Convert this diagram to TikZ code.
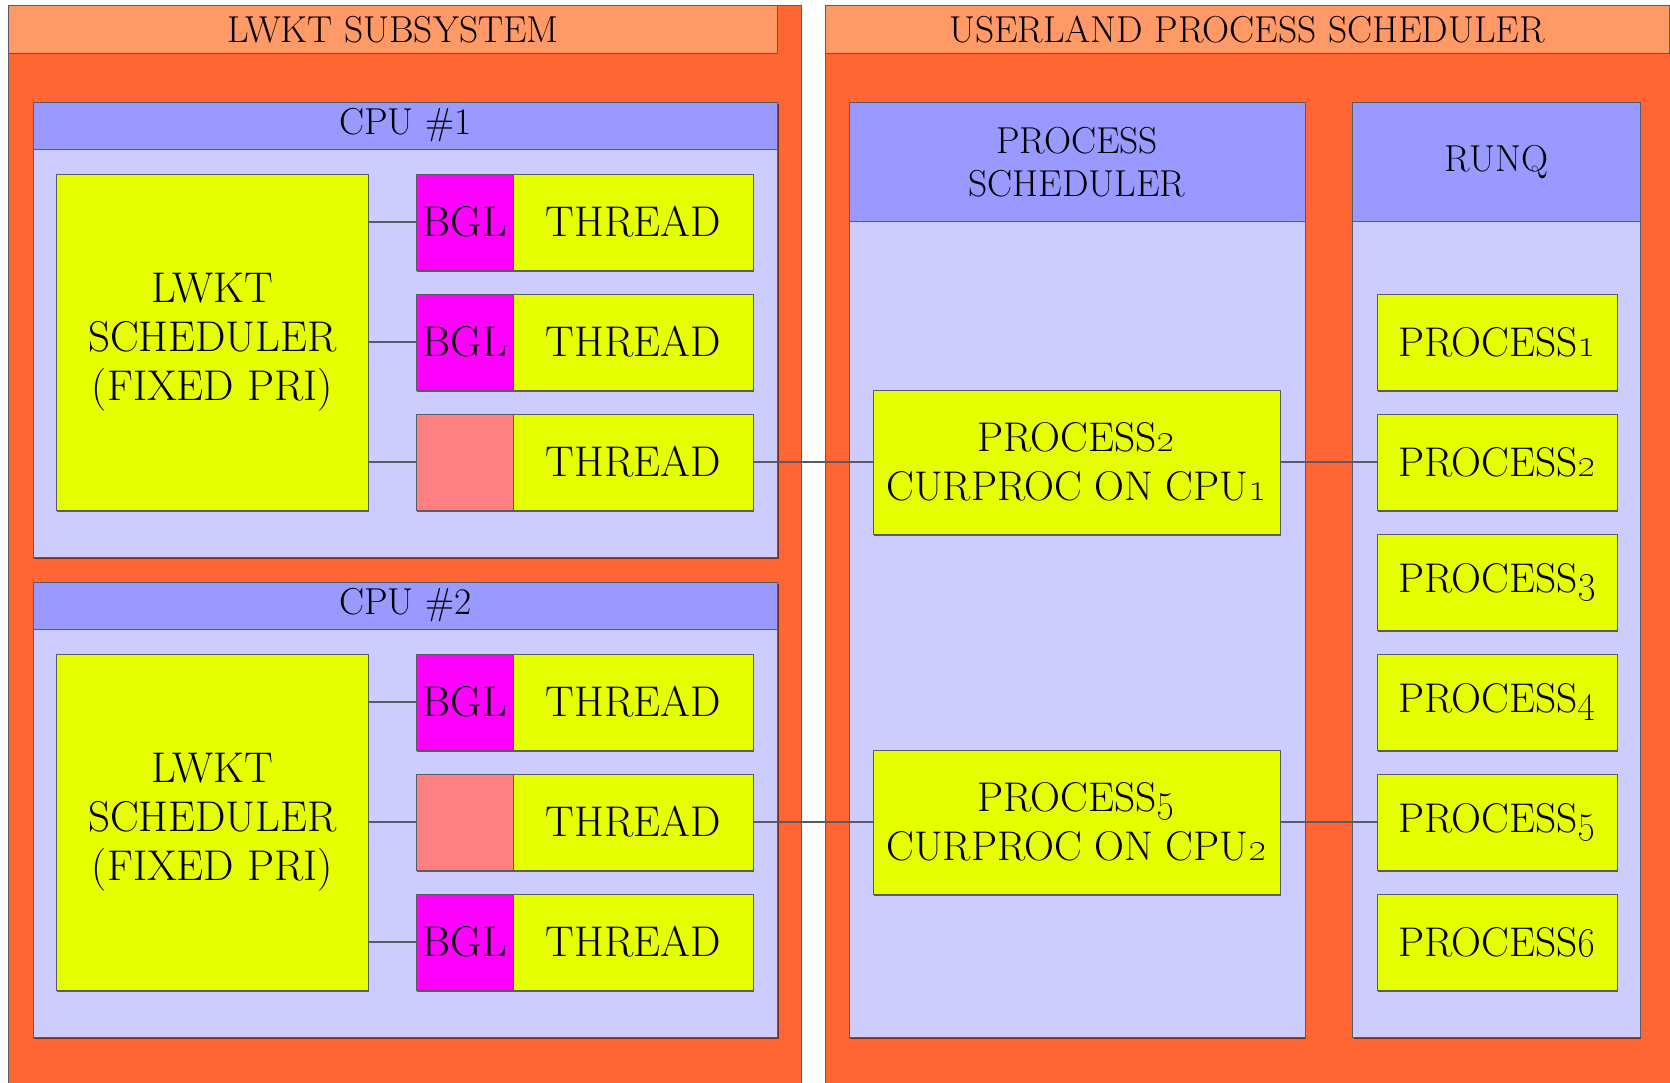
\documentclass[tikz,border=0pt]{standalone}
\usetikzlibrary{shadows}
\definecolor{panelorange}{HTML}{FF6633}
\definecolor{headorange}{HTML}{FF9966}
\definecolor{headblue}{HTML}{9999FF}
\definecolor{lavender}{HTML}{CCCCFF}
\definecolor{lime}{HTML}{E6FF00}
\definecolor{bglmag}{HTML}{FF00FF}
\definecolor{salmon}{HTML}{FF8080}
\definecolor{edge}{HTML}{5A5A66}
\newcommand{\bigtxt}{\fontsize{43}{49}\selectfont}
\newcommand{\midtxt}{\fontsize{41.5}{49}\selectfont}
\newcommand{\hdtxt}{\fontsize{37.5}{43}\selectfont}
\newcommand{\osn}[1]{\scalebox{1.15}{\oldstylenums{#1}}}
\tikzset{
  box/.style={draw=edge, line width=1pt, rectangle, anchor=north west, inner sep=0pt, outer sep=0pt, align=center,
    drop shadow={shadow xshift=1pt, shadow yshift=-2pt, fill=black, opacity=0.55}},
  flat/.style={draw=edge, line width=1pt, rectangle, anchor=north west, inner sep=0pt, outer sep=0pt, align=center},
  panel/.style={flat, fill=panelorange},
  phead/.style={flat, fill=headorange, font=\hdtxt},
  cpubox/.style={box, fill=lavender},
  cpuhead/.style={flat, fill=headblue, font=\hdtxt},
  lwkt/.style={box, fill=lime, font=\bigtxt, minimum width=312pt, minimum height=336pt},
  bgl/.style={box, fill=bglmag, font=\bigtxt, minimum width=97pt, minimum height=96pt},
  nobgl/.style={box, fill=salmon, minimum width=97pt, minimum height=96pt},
  thread/.style={box, fill=lime, font=\bigtxt, minimum width=240pt, minimum height=96pt},
  proc/.style={box, fill=lime, font=\midtxt, minimum width=240pt, minimum height=96pt},
  curproc/.style={box, fill=lime, font=\midtxt, minimum width=407pt, minimum height=144pt},
  link/.style={draw=edge, line width=1.5pt}
}
\begin{document}
\begin{tikzpicture}[x=1pt, y=-1pt]
\useasboundingbox (0,0) rectangle (1670,1082);
\fill[white] (0,0) rectangle (1670,1082);
% outer panels
\node[panel, minimum width=792.5pt, minimum height=1090pt] (lpanel) at (8.5,5.3) {};
\node[panel, minimum width=860pt, minimum height=1090pt] (rpanel) at (825,5.3) {};
\node[phead, minimum width=769pt, minimum height=48pt] (lhead) at (8.5,5.3) {LWKT SUBSYSTEM};
\node[phead, minimum width=844pt, minimum height=48pt] (rhead) at (825,5.3) {USERLAND PROCESS SCHEDULER};
% CPU boxes
\node[cpubox, minimum width=744.5pt, minimum height=455pt] (cpuA) at (33,102) {};
\node[cpuhead, minimum width=744.5pt, minimum height=47pt] (cpuAh) at (33,102) {CPU \#1};
\node[cpubox, minimum width=744.5pt, minimum height=455pt] (cpuB) at (33,582) {};
\node[cpuhead, minimum width=744.5pt, minimum height=47pt] (cpuBh) at (33,582) {CPU \#2};
% process scheduler and runq
\node[cpubox, minimum width=456pt, minimum height=935pt] (psched) at (849,102) {};
\node[cpuhead, minimum width=456pt, minimum height=119.5pt] (pschedh) at (849,102) {PROCESS\\SCHEDULER};
\node[cpubox, minimum width=287.4pt, minimum height=935pt] (runq) at (1352.6,102) {};
\node[cpuhead, minimum width=287.4pt, minimum height=119.5pt] (runqh) at (1352.6,102) {RUNQ};
% CPU 1 contents
\node[lwkt] (lwA) at (56.4,174) {LWKT\\SCHEDULER\\(FIXED PRI)};
\node[bgl] (bA1) at (416.4,174) {BGL};
\node[thread] (tA1) at (513.3,174) {THREAD};
\node[bgl] (bA2) at (416.4,294) {BGL};
\node[thread] (tA2) at (513.3,294) {THREAD};
\node[nobgl] (bA3) at (416.4,414) {};
\node[thread] (tA3) at (513.3,414) {THREAD};
% CPU 2 contents
\node[lwkt] (lwB) at (56.4,654) {LWKT\\SCHEDULER\\(FIXED PRI)};
\node[bgl] (bB1) at (416.4,654) {BGL};
\node[thread] (tB1) at (513.3,654) {THREAD};
\node[nobgl] (bB2) at (416.4,774) {};
\node[thread] (tB2) at (513.3,774) {THREAD};
\node[bgl] (bB3) at (416.4,894) {BGL};
\node[thread] (tB3) at (513.3,894) {THREAD};
% current processes
\node[curproc] (cur1) at (873,390) {PROCESS\osn{2}\\CURPROC ON CPU\osn{1}};
\node[curproc] (cur2) at (873,750) {PROCESS\osn{5}\\CURPROC ON CPU\osn{2}};
% runq
\node[proc] (p1) at (1377,294) {PROCESS\osn{1}};
\node[proc] (p2) at (1377,414) {PROCESS\osn{2}};
\node[proc] (p3) at (1377,534) {PROCESS\osn{3}};
\node[proc] (p4) at (1377,654) {PROCESS\osn{4}};
\node[proc] (p5) at (1377,774) {PROCESS\osn{5}};
\node[proc] (p6) at (1377,894) {PROCESS\osn{6}};
% connectors
\foreach \b in {bA1,bA2,bA3}{\draw[link] (lwA.east |- \b.west) -- (\b.west);}
\foreach \b in {bB1,bB2,bB3}{\draw[link] (lwB.east |- \b.west) -- (\b.west);}
\draw[link] (tA3.east) -- (cur1.west);
\draw[link] (cur1.east) -- (p2.west);
\draw[link] (tB2.east) -- (cur2.west);
\draw[link] (cur2.east) -- (p5.west);
\end{tikzpicture}
\end{document}
